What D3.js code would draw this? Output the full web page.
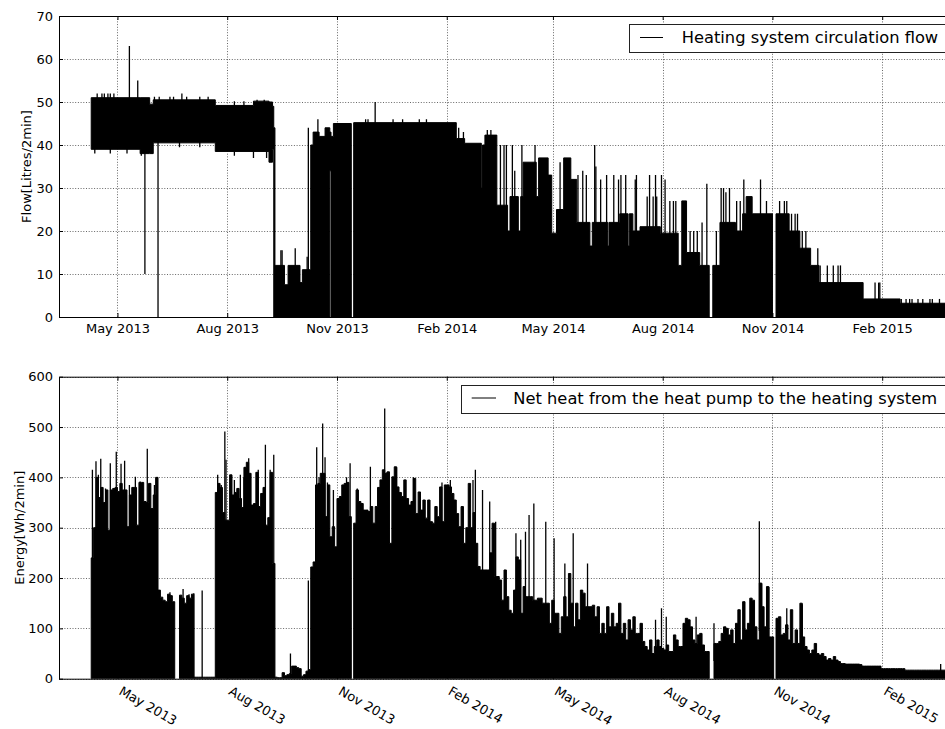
<!DOCTYPE html>
<html><head><meta charset="utf-8">
<script src="https://cdn.jsdelivr.net/npm/d3@7"></script>
<style>body{margin:0;background:#fff}svg text{font-family:"DejaVu Sans",sans-serif;fill:#000}</style>
</head><body><svg id="c" width="945" height="729"></svg>
<script>
// ---------- data ----------
const xDomain = ["2013-03-13", "2015-04-01"];
const xTickDates = ["2013-05-01","2013-08-01","2013-11-01","2014-02-01","2014-05-01","2014-08-01","2014-11-01","2015-02-01"];
const flowTicks = [0,10,20,30,40,50,60,70];
const energyTicks = [0,100,200,300,400,500,600];

// Heating system circulation flow: step envelope (value holds until next date), null = no data
const flowT = ["2013-04-09","2013-05-20","2013-05-28","2013-05-31","2013-07-22","2013-08-23","2013-09-05","2013-09-08","2013-09-09","2013-09-10",
 "2013-09-18","2013-09-21","2013-10-01","2013-10-03","2013-10-10","2013-10-12","2013-10-17","2013-10-22","2013-10-26","2013-10-27",
 "2013-10-29","2013-11-13","2013-11-15","2014-02-09","2014-02-16","2014-03-02","2014-03-03","2014-03-05","2014-03-15","2014-03-24",
 "2014-03-26","2014-04-02","2014-04-04","2014-04-06","2014-04-17","2014-04-19","2014-04-27","2014-04-30","2014-05-04","2014-05-10",
 "2014-05-16","2014-05-21","2014-06-01","2014-06-03","2014-06-16","2014-06-17","2014-06-26","2014-07-03","2014-07-04","2014-07-07",
 "2014-07-13","2014-07-30","2014-08-14","2014-08-17","2014-08-21","2014-09-01","2014-09-09","2014-09-12","2014-09-18","2014-10-01",
 "2014-10-07","2014-10-10","2014-10-15","2014-11-01","2014-11-04","2014-11-15","2014-11-24","2014-12-03","2014-12-10","2015-01-16",
 "2015-02-16","2015-04-01"];
const flowLo = [39,38,38,40.5,38.5,38.5,36,39,0,0,
 0,0,0,0,0,0,0,0,34,0,
 0,null,0,0,0,0,0,0,0,0,
 0,0,0,0,0,0,0,0,0,0,
 0,0,0,0,0,0,0,0,0,0,
 0,0,0,0,0,0,null,0,0,0,
 0,0,0,null,0,0,0,0,0,0,
 0,null];
const flowHi = [51,51,49.5,50.5,49.2,50.2,50,49,44,12,
 7.5,12,8,11,40,43,42,44,43,42,
 45,null,45.2,41.5,40.4,30,40,42.3,26,20,
 28,20,28,36,28,37,33,19.5,25,37,
 32,22,16.5,22,16.5,22,24,16.5,24,20,
 21,19.5,12,27,15,12,null,12,22,20,
 24,28,24,null,24,20,16,12,8,4.2,
 3.2,null];
// short excursions of the flow series [date, value]
const flowSpikes = [
 ["2013-04-12",38],["2013-04-14",52],["2013-04-18",52],["2013-04-20",52],["2013-04-23",52],["2013-04-25",52],["2013-04-25",38],
 ["2013-04-28",52],["2013-05-09",38],["2013-05-11",63],["2013-05-18",55],["2013-05-21",37.5],["2013-05-24",10],["2013-05-30",38],
 ["2013-06-01",51.2],["2013-06-04",0],["2013-06-05",51.2],["2013-06-14",51.2],["2013-06-17",51.2],["2013-06-22",39.5],["2013-06-24",52],
 ["2013-06-28",51.2],["2013-07-09",51.2],["2013-07-09",39.5],["2013-07-16",51.2],["2013-08-07",50.2],["2013-08-07",37.5],["2013-08-15",50.2],
 ["2013-08-23",37],["2013-08-26",50.5],["2013-09-01",50.5],["2013-09-03",37],
 ["2013-09-15",15.5],["2013-09-16",15.5],["2013-09-27",16],["2013-10-07",14],["2013-10-08",44],["2013-10-16",46],
 ["2013-11-25",46],["2013-11-27",46],["2013-12-03",50],["2013-12-18",46],["2013-12-26",46],["2014-01-09",46],["2014-01-15",46],
 ["2014-02-11",44],["2014-02-15",43],["2014-03-07",43.5],["2014-03-10",43.5],
 ["2014-03-18",40],["2014-03-21",40],["2014-03-23",40],["2014-03-28",40],["2014-03-30",34],["2014-04-05",40],["2014-04-16",40],
 ["2014-05-07",36],["2014-05-22",33],["2014-05-26",34],["2014-05-29",33],["2014-06-05",40],["2014-06-06",35],["2014-06-10",32],
 ["2014-06-15",33],["2014-06-21",33],["2014-06-25",32],["2014-06-27",33],["2014-07-01",33],["2014-07-09",32],["2014-07-10",33],
 ["2014-07-19",28],["2014-07-21",33],["2014-07-24",28],["2014-07-26",33],["2014-07-27",28],["2014-07-31",33],["2014-08-03",32],
 ["2014-08-07",27],["2014-08-10",27],["2014-08-12",27],["2014-08-24",20],["2014-08-27",20],["2014-08-30",20],["2014-09-03",22],
 ["2014-09-07",31],["2014-09-15",20],["2014-09-19",30],["2014-09-21",30],["2014-09-23",29],["2014-09-26",30],["2014-10-02",27],
 ["2014-10-05",27],["2014-10-08",32],["2014-10-22",32],["2014-10-27",27],["2014-11-07",27],["2014-11-11",27],["2014-11-13",27],
 ["2014-11-17",24],["2014-11-20",24],["2014-11-22",24],["2014-11-26",20],["2014-11-29",20],["2014-12-09",16],["2014-12-11",12],
 ["2014-12-17",12],["2014-12-22",12],["2014-12-26",12],["2014-12-28",12],["2015-01-26",8],["2015-01-29",8],["2015-01-30",8],
 ["2015-02-17",4.2],["2015-02-21",4.2],["2015-02-24",4.2],["2015-02-26",4.2],["2015-03-03",4.2],["2015-03-07",4.2],["2015-03-13",4.2],
 ["2015-03-15",4.2],["2015-03-21",4.2]];

// Net heat from the heat pump to the heating system: level read every 2 days from 2013-04-09 (null = no data)
const energyStart = "2013-04-09";
const energyStepDays = 2;
const energyValues = [
 240,300,400,360,380,350,375,295,375,378,
 380,372,388,375,375,302,365,380,380,305,
 390,390,352,350,388,338,365,400,176,162,
 156,153,168,165,153,null,null,166,160,150,
 165,160,168,3,3,3,3,3,3,3,
 3,3,370,388,380,330,315,315,405,365,
 370,378,358,340,420,430,408,345,348,410,
 342,368,380,305,320,410,229,3,2,2,
 12,6,8,10,25,25,22,20,5,8,
 15,18,222,232,385,388,408,408,322,385,
 282,302,262,358,362,385,388,390,322,null,
 309,375,352,348,335,335,332,342,309,342,
 380,395,415,408,411,269,401,421,381,370,
 362,395,358,345,352,398,328,371,335,355,
 319,355,312,309,342,322,381,312,385,385,
 381,368,355,328,302,342,269,300,388,300,
 330,269,223,216,216,216,216,250,309,203,
 203,196,156,216,163,136,130,176,242,236,
 130,183,163,163,163,156,156,160,160,150,
 150,150,110,156,130,130,90,123,163,123,
 209,150,103,150,117,176,170,143,143,143,
 146,123,143,90,110,90,143,103,130,103,
 110,150,90,110,77,117,97,123,90,90,
 110,74,64,57,77,50,64,77,64,60,
 57,67,54,54,87,77,64,64,110,120,
 117,103,77,70,87,90,67,54,54,null,
 null,70,70,74,90,103,100,87,97,70,
 110,137,77,153,97,110,160,156,103,77,
 190,143,103,183,83,83,null,120,123,87,
 90,107,77,137,70,97,70,150,83,64,
 57,50,57,70,50,47,50,44,37,40,
 37,44,37,34,30,30,29,29,29,29,
 29,29,28,25,25,25,25,25,25,25,
 25,20,20,20,20,20,20,20,20,20,
 20,17,17,17,17,17,17,17,17,17,
 17,17,17,17,17,17,17,17,17,17,
 17];
// isolated peaks of the energy series [date, value]
const energySpikes = [
 ["2013-04-10",415],["2013-04-13",432],["2013-04-15",405],["2013-04-17",437],["2013-04-21",378],
 ["2013-04-25",428],["2013-04-28",375],["2013-04-30",451],["2013-05-04",427],["2013-05-07",433],
 ["2013-05-11",385],["2013-05-16",401],["2013-05-20",392],["2013-05-22",390],
 ["2013-05-26",457],["2013-06-01",385],["2013-06-03",400],
 ["2013-06-14",172],["2013-06-25",178],["2013-06-30",168],["2013-07-04",170],["2013-07-11",175],
 ["2013-07-24",405],["2013-07-27",385],["2013-07-30",491],["2013-07-31",435],["2013-08-04",403],["2013-08-07",395],
 ["2013-08-12",405],["2013-08-15",400],["2013-08-16",420],["2013-08-18",425],["2013-08-19",438],
 ["2013-08-27",415],["2013-09-02",465],["2013-09-06",415],["2013-09-09",445],
 ["2013-09-23",50],["2013-10-08",195],
 ["2013-10-15",460],["2013-10-17",400],["2013-10-20",507],["2013-10-22",440],["2013-10-24",390],["2013-10-29",375],
 ["2013-11-07",365],["2013-11-09",400],["2013-11-10",390],["2013-11-12",428],["2013-11-18",378],["2013-11-29",421],
 ["2013-12-06",380],["2013-12-11",537],["2013-12-13",410],["2013-12-21",420],["2014-01-04",400],
 ["2014-01-28",390],["2014-02-04",395],["2014-02-20",380],["2014-02-23",395],["2014-02-25",415],["2014-03-03",375],["2014-03-09",352],
 ["2014-03-14",312],["2014-03-31",289],["2014-04-04",276],["2014-04-08",292],["2014-04-11",325],["2014-04-15",348],
 ["2014-04-25",312],["2014-05-02",279],["2014-05-11",229],["2014-05-18",289],["2014-05-30",229],
 ["2014-07-31",140],["2014-07-26",117],["2014-08-04",123],["2014-08-29",123],["2014-09-13",110],
 ["2014-10-21",313],["2014-10-23",189],["2014-10-29",182],["2014-11-13",140],["2014-11-26",148],["2015-03-22",29]];

// ---------- drawing ----------
const parse = d3.utcParse("%Y-%m-%d");
const svg = d3.select("#c");
const L = 59, R = 952.6;
const x = d3.scaleUtc().domain(xDomain.map(parse)).range([L, R]);
const tickDates = xTickDates.map(parse);

// segments [t0, t1, lo, hi]
const flowSegs = flowT.slice(0, -1).map((d, i) => [parse(d), parse(flowT[i + 1]), flowLo[i], flowHi[i]]);
const e0 = parse(energyStart);
const energySegs = energyValues.map((v, i) => [d3.utcDay.offset(e0, i * energyStepDays),
  d3.utcDay.offset(e0, (i + 1) * energyStepDays), v == null ? null : 0, v]);

const panels = [
  {top:16, bottom:317, max:70, ticks:flowTicks, segs:flowSegs, spikes:flowSpikes,
   label:"Flow[Litres/2min]", labelX:26, rotate:false,
   leg:{x:629.5, y:24.5, w:320, h:28, lx1:640, lx2:663, ly:37.5, tx:681.7, ty:42.5,
        text:"Heating system circulation flow"}},
  {top:376.7, bottom:678.7, max:600, ticks:energyTicks, segs:energySegs, spikes:energySpikes,
   label:"Energy[Wh/2min]", labelX:19.3, rotate:true,
   leg:{x:461.5, y:385.5, w:490, h:28, lx1:471.7, lx2:496, ly:398, tx:513.3, ty:404.3,
        text:"Net heat from the heat pump to the heating system"}}
];

panels.forEach((p, pi) => {
  const y = d3.scaleLinear().domain([0, p.max]).range([p.bottom, p.top]);
  const g = svg.append("g");
  const clipId = "clip" + pi;
  svg.append("clipPath").attr("id", clipId).append("rect")
    .attr("x", L).attr("y", p.top).attr("width", R - L).attr("height", p.bottom - p.top);

  // grid
  const grid = g.append("g").attr("stroke", "#000").attr("stroke-width", 0.6).attr("stroke-dasharray", "1,1.7");
  grid.selectAll("line.gx").data(tickDates).join("line")
    .attr("x1", d => Math.round(x(d)) + 0.5).attr("x2", d => Math.round(x(d)) + 0.5)
    .attr("y1", p.top).attr("y2", p.bottom);
  grid.selectAll("line.gy").data(p.ticks).join("line")
    .attr("y1", d => Math.round(y(d)) + 0.5).attr("y2", d => Math.round(y(d)) + 0.5)
    .attr("x1", L).attr("x2", R);

  // step envelope
  const pts = [];
  p.segs.forEach(s => {
    if (s[3] == null) { pts.push({t: s[0], lo: null, hi: null}); return; }
    pts.push({t: s[0], lo: s[2], hi: s[3]}, {t: s[1], lo: s[2], hi: s[3]});
  });
  const area = d3.area().defined(d => d.hi != null)
    .x(d => x(d.t)).y0(d => y(d.lo)).y1(d => y(d.hi));
  const data = g.append("g").attr("clip-path", `url(#${clipId})`);
  data.append("path").datum(pts).attr("d", area)
    .attr("fill", "#000").attr("stroke", "#000").attr("stroke-width", 1).attr("stroke-linejoin", "miter");

  const baseAt = t => {
    const s = p.segs.find(s => t >= s[0] && t < s[1]);
    return (!s || s[3] == null) ? null : (s[2] + s[3]) / 2;
  };
  data.selectAll("line.sp").data(p.spikes).join("line")
    .attr("x1", d => x(parse(d[0]))).attr("x2", d => x(parse(d[0])))
    .attr("y1", d => y(d[1]))
    .attr("y2", d => { const b = baseAt(parse(d[0])); return y(b == null ? 0 : b); })
    .attr("stroke", "#000").attr("stroke-width", 1.3);

  // axes (ticks inside, on all four sides)
  const fs = "13px";
  const ax = g.append("g").attr("transform", `translate(${L},0)`)
    .call(d3.axisLeft(y).tickValues(p.ticks).tickSize(-4).tickSizeOuter(0).tickPadding(6));
  ax.selectAll("text").attr("font-size", fs).attr("font-family", "DejaVu Sans");
  g.append("g").attr("transform", `translate(${R},0)`)
    .call(d3.axisRight(y).tickValues(p.ticks).tickSize(-4).tickSizeOuter(0).tickFormat(""));
  g.append("g").attr("transform", `translate(0,${p.top})`)
    .call(d3.axisTop(x).tickValues(tickDates).tickSize(-4).tickSizeOuter(0).tickFormat(""));
  const bx = g.append("g").attr("transform", `translate(0,${p.bottom})`)
    .call(d3.axisBottom(x).tickValues(tickDates).tickSize(-4).tickSizeOuter(0).tickPadding(7)
      .tickFormat(d3.utcFormat("%b %Y")));
  bx.selectAll("text").attr("font-size", fs).attr("font-family", "DejaVu Sans");
  if (p.rotate) {
    bx.selectAll("text").attr("x", 0).attr("y", 0).attr("dy", 0)
      .attr("text-anchor", "start").attr("transform", "translate(0,15) rotate(30)");
  }
  g.selectAll(".domain").attr("stroke", "#000").attr("stroke-width", 1);
  g.selectAll(".tick line").attr("stroke", "#000");

  // y label
  g.append("text").attr("transform", `translate(${p.labelX},${(p.top + p.bottom) / 2}) rotate(-90)`)
    .attr("text-anchor", "middle").attr("dy", "0.35em").attr("font-size", "13px").text(p.label);

  // legend
  const lg = p.leg;
  g.append("rect").attr("x", lg.x).attr("y", lg.y).attr("width", lg.w).attr("height", lg.h)
    .attr("fill", "#fff").attr("stroke", "#222").attr("stroke-width", 1);
  g.append("line").attr("x1", lg.lx1).attr("x2", lg.lx2).attr("y1", lg.ly).attr("y2", lg.ly)
    .attr("stroke", "#000").attr("stroke-width", 1);
  g.append("text").attr("x", lg.tx).attr("y", lg.ty).attr("font-size", "16.3px").text(lg.text);
});
</script></body></html>
